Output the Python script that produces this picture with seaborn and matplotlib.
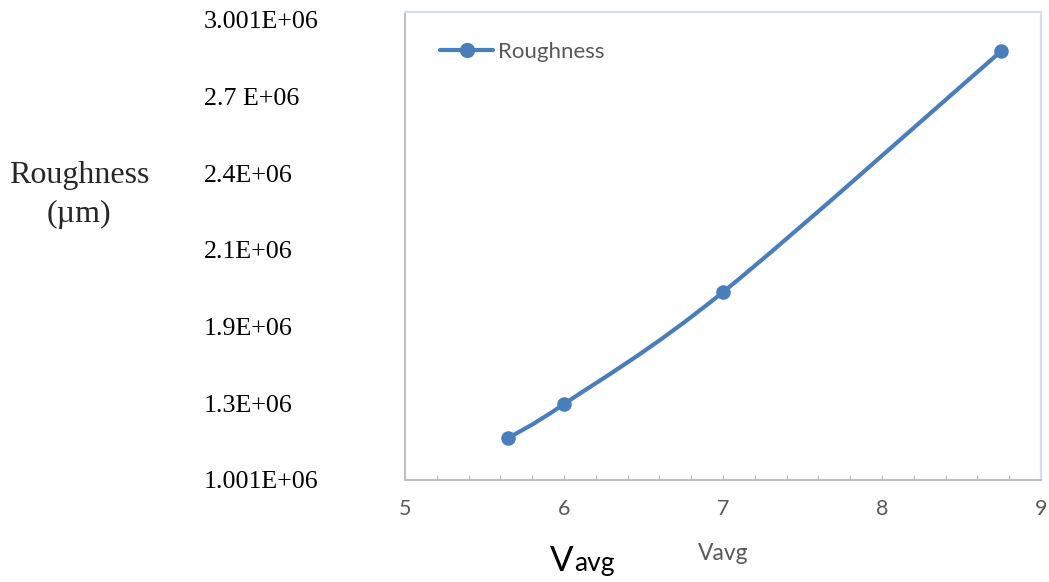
import numpy as np
import matplotlib
matplotlib.use("Agg")
import matplotlib.pyplot as plt
import seaborn as sns
from matplotlib.path import Path
from matplotlib.patches import PathPatch
from matplotlib.lines import Line2D
from matplotlib.ticker import MultipleLocator

# Measured roughness against average voltage
v_avg = [5.65, 6.0, 7.0, 8.75]
roughness = [1.184e6, 1.331e6, 1.818e6, 2.866e6]

x_ticks = [5, 6, 7, 8, 9]
y_tick_labels = ["1.001E+06", "1.3E+06", "1.9E+06", "2.1E+06",
                 "2.4E+06", "2.7 E+06", "3.001E+06"]

LINE_BLUE = "#4a7ebb"
AXIS_GRAY = "#bfbfbf"
FRAME_BLUE = "#d3ddef"
TEXT_GRAY = "#595959"

sns.set_theme(style="white")
plt.rcParams["font.family"] = ["Lato", "DejaVu Sans"]

W, H = 1049, 582
fig = plt.figure(figsize=(W / 100, H / 100), dpi=100)
ax = fig.add_axes([405 / W, 102 / H, 636 / W, 468 / H])

# y range: evenly spaced label slots from 1.001E+06 to 3.001E+06
y_lo, y_hi = 1.001e6, 3.001e6
per_px = (y_hi - y_lo) / 460
ax.set_ylim(y_lo, y_lo + 468 * per_px)
ax.set_xlim(5, 9)

# smoothed curve through the points (cubic Bezier segments)
pts = np.column_stack([v_avg, roughness])
ext = np.vstack([pts[0], pts, pts[-1]])
verts = [tuple(pts[0])]
codes = [Path.MOVETO]
for i in range(len(pts) - 1):
    p0, p1, p2, p3 = ext[i], ext[i + 1], ext[i + 2], ext[i + 3]
    c1 = p1 + (p2 - p0) / 6
    c2 = p2 - (p3 - p1) / 6
    verts += [tuple(c1), tuple(c2), tuple(p2)]
    codes += [Path.CURVE4] * 3
ax.add_patch(PathPatch(Path(verts, codes), facecolor="none",
                       edgecolor=LINE_BLUE, lw=3, capstyle="round", zorder=2))

sns.scatterplot(x=v_avg, y=roughness, ax=ax, s=110, color=LINE_BLUE,
                edgecolor=LINE_BLUE, linewidth=0, zorder=3, legend=False)

# x axis
ax.set_xticks(x_ticks)
ax.set_xticklabels([str(t) for t in x_ticks])
ax.xaxis.set_minor_locator(MultipleLocator(0.2))
ax.tick_params(axis="x", which="both", direction="in", length=3.8,
               width=1, color=AXIS_GRAY, bottom=True, top=False)
ax.tick_params(axis="x", which="major", labelsize=15.5,
               labelcolor=TEXT_GRAY, pad=14)
ax.set_xlabel("Vavg", fontsize=16.5, color=TEXT_GRAY, labelpad=17)

# y axis labels set far to the left, left aligned
ax.set_yticks(np.linspace(y_lo, y_hi, 7))
ax.set_yticklabels(y_tick_labels, fontfamily="Liberation Serif",
                   fontsize=18.7, color="black", ha="left")
ax.tick_params(axis="y", length=0, pad=145)
ax.set_ylabel("")

for side in ("left", "bottom"):
    ax.spines[side].set_color(AXIS_GRAY)
    ax.spines[side].set_linewidth(1.4)
for side in ("top", "right"):
    ax.spines[side].set_color(FRAME_BLUE)
    ax.spines[side].set_linewidth(1.6)

handle = Line2D([], [], color=LINE_BLUE, lw=3, marker="o", markersize=10)
ax.legend(handles=[handle], labels=["Roughness"], loc="center left",
          bbox_to_anchor=(0.055, 0.9145), frameon=False, fontsize=16,
          handlelength=2.4, handletextpad=0.2, borderpad=0,
          borderaxespad=0, labelcolor=TEXT_GRAY)

fig.text(79 / W, 1 - 195 / H, "Roughness\n(µm)", ha="center", va="center",
         family="Liberation Serif", fontsize=23, linespacing=1.45)

fig.text(550 / W, 1 - 571 / H, "V", ha="left", va="baseline",
         fontsize=25, color="black")
fig.text(574 / W, 1 - 571 / H, "avg", ha="left", va="baseline",
         fontsize=19, color="black")

fig.savefig("out.png", dpi=100)
